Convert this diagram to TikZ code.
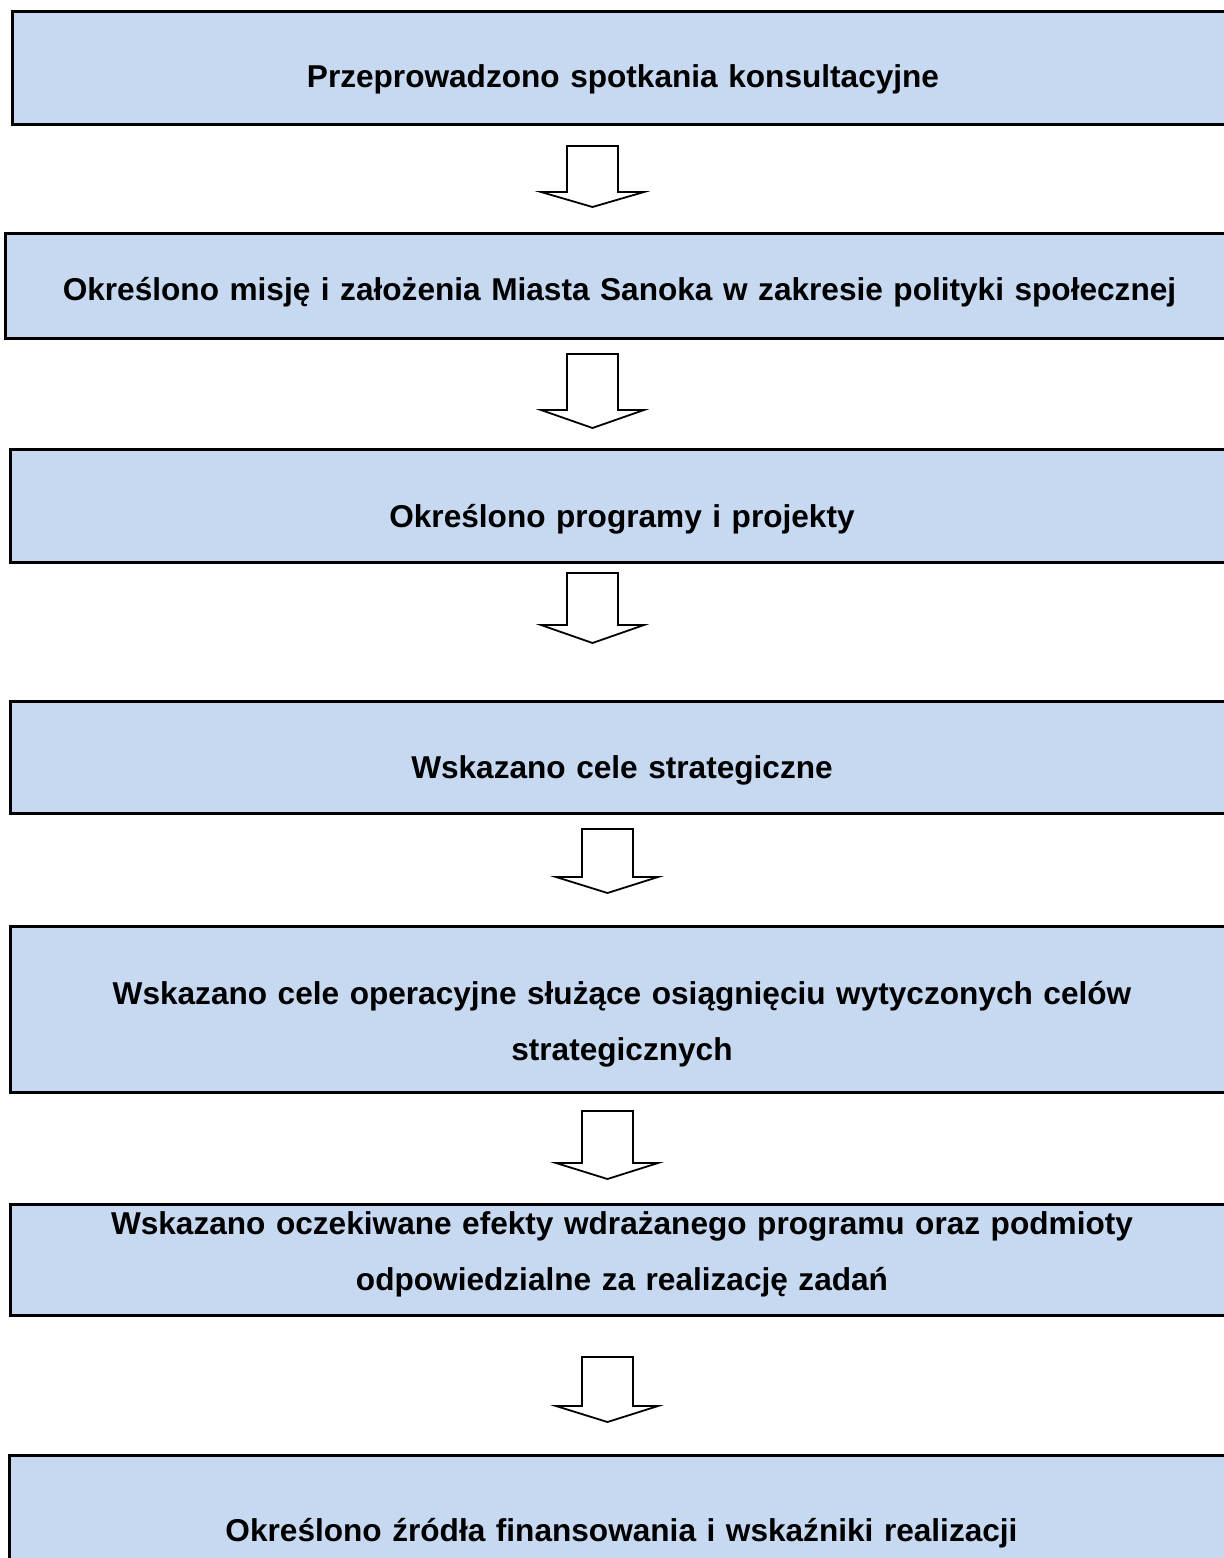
\documentclass[tikz,border=0pt]{standalone}
\usepackage{fontspec}
\setmainfont{Liberation Sans}
\definecolor{boxblue}{RGB}{198,217,241}
\begin{document}
\begin{tikzpicture}[x=0.5pt, y=-0.5pt,
	stage/.style={draw=black, line width=1.5pt, fill=boxblue, anchor=north west, inner sep=0pt, align=center, font=\fontsize{15.8pt}{28pt}\selectfont\bfseries},
	flow/.style={draw=black, line width=0.9pt, line join=miter, fill=white}]
	\clip (0,0) rectangle (1224,1558);
	\node (S1) at (11,   10)	[stage, text width=610.5pt, text height=38pt,   text depth=18.5pt]	{Przeprowadzono spotkania konsultacyjne};
	\node (S2) at (4,   232)	[stage, text width=614pt,   text height=33.5pt, text depth=19pt]	{Określono misję i założenia Miasta Sanoka w zakresie polityki społecznej};
	\node (S3) at (9,   448)	[stage, text width=611.5pt, text height=39pt,   text depth=17.5pt]	{Określono programy i projekty};
	\node (S4) at (9,   700)	[stage, text width=611.5pt, text height=38.5pt, text depth=17.5pt]	{Wskazano cele strategiczne};
	\node (S5) at (9,   925)	[stage, text width=611.5pt, text height=39pt,   text depth=44pt]	{Wskazano cele operacyjne służące osiągnięciu wytyczonych celów\\strategicznych};
	\node (S6) at (9,  1203)	[stage, text width=611.5pt, text height=15pt,   text depth=40.5pt]	{Wskazano oczekiwane efekty wdrażanego programu oraz podmioty\\odpowiedzialne za realizację zadań};
	\node (S7) at (8,  1454)	[stage, text width=612pt,   text height=43pt,   text depth=30pt]	{Określono źródła finansowania i wskaźniki realizacji};
	% block arrows between the stages
	\draw[flow] (567,146) -- (618,146) -- (618,192) -- (644,192) -- (592.5,207) -- (541,192) -- (567,192) -- cycle;
	\draw[flow] (567,354) -- (618,354) -- (618,410) -- (644,410) -- (592.5,428) -- (541,410) -- (567,410) -- cycle;
	\draw[flow] (567,573) -- (618,573) -- (618,625) -- (644,625) -- (592.5,643) -- (541,625) -- (567,625) -- cycle;
	\draw[flow] (582,829) -- (633,829) -- (633,877) -- (658,877) -- (607.5,893) -- (556,877) -- (582,877) -- cycle;
	\draw[flow] (582,1111) -- (633,1111) -- (633,1163) -- (658,1163) -- (607.5,1179) -- (556,1163) -- (582,1163) -- cycle;
	\draw[flow] (582,1357) -- (633,1357) -- (633,1406) -- (658,1406) -- (607.5,1422) -- (556,1406) -- (582,1406) -- cycle;
\end{tikzpicture}
\end{document}
